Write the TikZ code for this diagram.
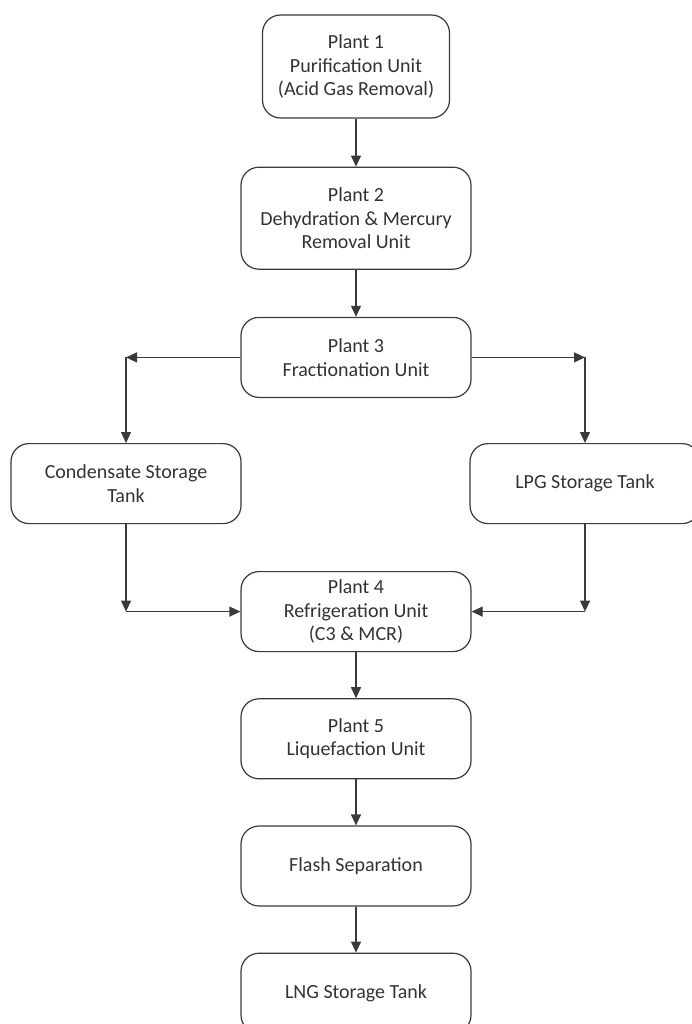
\documentclass[tikz,border=0pt]{standalone}
\usepackage{fontspec}
\setmainfont{Carlito}
\usetikzlibrary{arrows.meta,positioning}
\definecolor{edge}{HTML}{3A3A3A}
\definecolor{ink}{HTML}{333333}
\tikzset{
  unit/.style={draw=edge,fill=white,rounded corners=18pt,line width=1.2pt,
    minimum width=230pt,minimum height=80pt,align=center,
    font=\fontsize{20}{23.5}\selectfont\color{ink}},
  arr/.style={-{Triangle[length=11pt,width=10pt]},draw=edge,line width=1.2pt},
}

\begin{document}
\begin{tikzpicture}[x=1pt,y=1pt,node distance=48pt]
  \useasboundingbox (0,0) rectangle (692,-1024);

  \node[unit,minimum width=187pt,minimum height=103pt] (p1) at (356,-66.5) {Plant 1\\Purification Unit\\(Acid Gas Removal)};
  \node[unit,minimum height=102pt,below=48pt of p1] (p2) {Plant 2\\Dehydration \& Mercury\\Removal Unit};
  \node[unit,below=47pt of p2] (p3) {Plant 3\\Fractionation Unit};

  \node[unit,below=45pt of p3,xshift=-230pt] (cond) {Condensate Storage\\Tank};
  \node[unit,below=45pt of p3,xshift=229pt] (lpg) {LPG Storage Tank};

  \node[unit,below=173pt of p3] (p4) {Plant 4\\Refrigeration Unit\\(C3 \& MCR)};
  \node[unit,below=46pt of p4] (p5) {Plant 5\\Liquefaction Unit};
  \node[unit,below=46pt of p5] (flash) {Flash Separation};
  \node[unit,below=46pt of flash] (lng) {LNG Storage Tank};

  \coordinate (cl) at (cond.north |- p3.west);
  \coordinate (cr) at (lpg.north |- p3.east);
  \coordinate (bl) at (cond.south |- p4.west);
  \coordinate (br) at (lpg.south |- p4.east);

  \draw[arr](p1)--(p2);\draw[arr](p2)--(p3);
  \draw[arr](p3)--(cl);\draw[arr](cl)--(cond);
  \draw[arr](p3)--(cr);\draw[arr](cr)--(lpg);
  \draw[arr](cond)--(bl);\draw[arr](bl)--(p4);
  \draw[arr](lpg)--(br);\draw[arr](br)--(p4);
  \draw[arr](p4)--(p5);\draw[arr](p5)--(flash);\draw[arr](flash)--(lng);
\end{tikzpicture}
\end{document}
